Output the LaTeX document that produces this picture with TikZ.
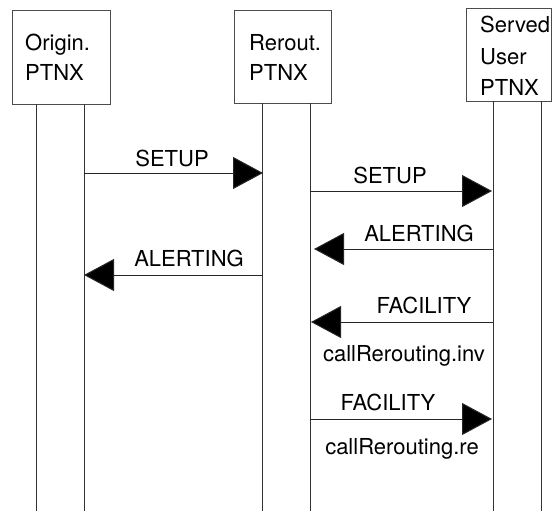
\documentclass[tikz,border=0pt]{standalone}
\usepackage{fontspec}
\setmainfont{TeX Gyre Heros}
\usetikzlibrary{arrows.meta}

\begin{document}
\begin{tikzpicture}[x=1pt,y=-1pt,
  entity/.style={draw=black!70, line width=1pt, fill=white, inner sep=0pt, anchor=north west},
  lifeline/.style={draw=black!80, line width=1pt},
  msg/.style={draw=black!85, line width=1pt, -{Triangle[length=30pt,width=32pt,fill=black]}},
  txt/.style={font=\fontsize{22}{26}\selectfont, inner sep=0pt, anchor=base},
  boxtxt/.style={font=\fontsize{22}{26}\selectfont, inner sep=0pt, anchor=base west}
]
% canvas
\useasboundingbox (0,0) rectangle (556,511);

% exchange boxes
\node[entity, minimum width=98pt, minimum height=94pt] (orig) at (12,10) {};
\node[entity, minimum width=97pt, minimum height=93pt] (rerout) at (234,10) {};
\node[entity, minimum width=85pt, minimum height=93pt] (served) at (466,8) {};

\node[boxtxt] (o1) at (25,51) {Origin.};
\node[boxtxt] (o2) at (25,80) {PTNX};
\node[boxtxt] (r1) at (249,51) {Rerout.};
\node[boxtxt] (r2) at (249,80) {PTNX};
\node[boxtxt] (s1) at (480,33) {Served};
\node[boxtxt] (s2) at (480,64) {User};
\node[boxtxt] (s3) at (480,95) {PTNX};

% lifelines
\coordinate (oL) at (36,104);  \coordinate (oLb) at (36,511);
\coordinate (oR) at (84,104);  \coordinate (oRb) at (84,511);
\coordinate (rL) at (262,103); \coordinate (rLb) at (262,511);
\coordinate (rR) at (310,103); \coordinate (rRb) at (310,511);
\coordinate (sL) at (493,101); \coordinate (sLb) at (493,511);
\coordinate (sR) at (541,101); \coordinate (sRb) at (541,511);
\foreach \a/\b in {oL/oLb, oR/oRb, rL/rLb, rR/rRb, sL/sLb, sR/sRb}
  \draw[lifeline] (\a) -- (\b);

% message end points
\coordinate (m1a) at (84,173);  \coordinate (m1b) at (263,173);
\coordinate (m2a) at (262,275); \coordinate (m2b) at (84,275);
\coordinate (m3a) at (310,191); \coordinate (m3b) at (492,191);
\coordinate (m4a) at (493,249); \coordinate (m4b) at (314,249);
\coordinate (m5a) at (493,322); \coordinate (m5b) at (311,322);
\coordinate (m6a) at (310,419); \coordinate (m6b) at (492,419);

% messages
\draw[msg] (m1a) -- (m1b);
\draw[msg] (m2a) -- (m2b);
\draw[msg] (m3a) -- (m3b);
\draw[msg] (m4a) -- (m4b);
\draw[msg] (m5a) -- (m5b);
\draw[msg] (m6a) -- (m6b);

% message labels
\node[txt] (l1) at (172,166) {SETUP};
\node[txt] (l2) at (189,266) {ALERTING};
\node[txt] (l3) at (390,183) {SETUP};
\node[txt] (l4) at (419,241) {ALERTING};
\node[txt] (l5) at (424,313) {FACILITY};
\node[txt] (l6) at (404,361) {callRerouting.inv};
\node[txt] (l7) at (388,410) {FACILITY};
\node[txt] (l8) at (402,454) {callRerouting.re};
\end{tikzpicture}
\end{document}
